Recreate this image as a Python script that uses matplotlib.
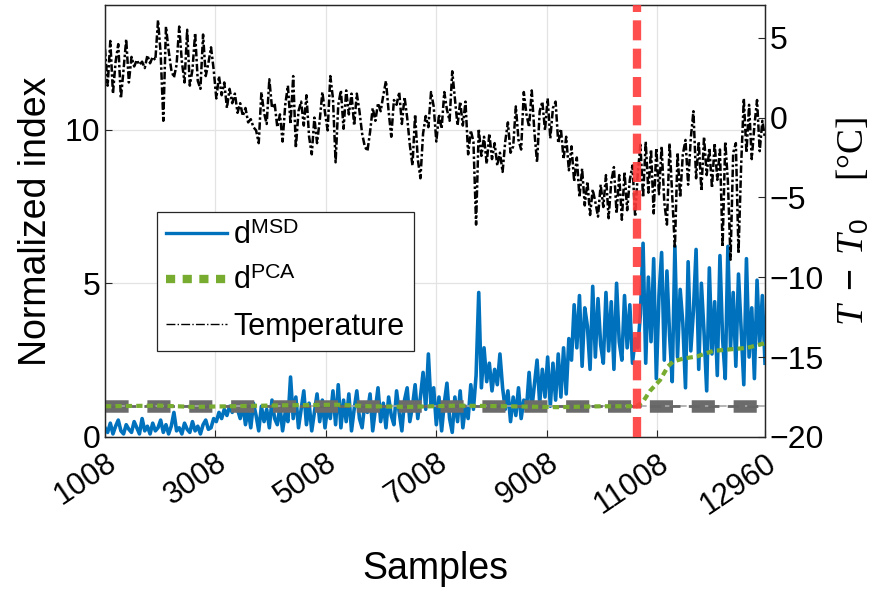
import numpy as np
import matplotlib.pyplot as plt
from matplotlib.lines import Line2D

plt.rcParams['font.family'] = ['Liberation Sans', 'DejaVu Sans']
plt.rcParams['mathtext.fontset'] = 'custom'
plt.rcParams['mathtext.rm'] = 'Liberation Sans'
plt.rcParams['mathtext.it'] = 'Liberation Serif:italic'
plt.rcParams['mathtext.bf'] = 'Liberation Sans:bold'

## data (one value every 48 samples)
samples = np.arange(1008, 12961, 48)

msd = [0.30, 0.15, 0.45, 0.10, 0.35, 0.55, 0.20, 0.10, 0.40, 0.25,
       0.15, 0.50, 0.30, 0.10, 0.60, 0.20, 0.35, 0.10, 0.45, 0.20,
       0.30, 0.55, 0.15, 0.40, 0.10, 0.35, 0.80, 0.20, 0.30, 0.10,
       0.45, 0.25, 0.15, 0.50, 0.20, 0.35, 0.10, 0.40, 0.55, 0.25,
       0.30, 0.60, 0.50, 0.80, 0.60, 0.90, 0.70, 1.00, 0.80, 1.10,
       0.90, 0.60, 1.05, 0.40, 0.90, 0.30, 1.10, 0.70, 0.20, 1.00,
       0.50, 0.90, 0.30, 1.20, 0.60, 0.40, 1.00, 0.20, 0.80, 0.50,
       1.95, 0.60, 1.30, 0.30, 0.90, 1.50, 0.40, 1.10, 0.20, 0.80,
       1.40, 0.50, 1.20, 0.30, 1.00, 0.60, 1.50, 0.40, 1.70, 0.30,
       1.20, 0.50, 1.40, 0.20, 0.90, 1.50, 0.60, 0.30, 1.10, 0.80,
       1.40, 0.20, 0.90, 1.60, 0.50, 1.10, 0.30, 1.30, 0.70, 0.40,
       1.50, 0.80, 0.20, 1.20, 1.60, 0.50, 1.00, 1.70, 0.60, 1.30,
       2.10, 0.90, 2.70, 1.00, 1.60, 0.40, 1.30, 0.20, 1.10, 1.75,
       0.60, 0.15, 1.30, 0.50, 1.50, 0.30, 1.00, 0.60, 1.70, 0.90,
       2.00, 4.70, 1.60, 2.90, 1.80, 2.40, 1.50, 2.20, 1.70, 2.70,
       1.60, 0.90, 1.50, 0.50, 1.30, 0.70, 1.60, 0.60, 1.20, 0.90,
       2.10, 0.90, 1.70, 2.50, 1.10, 2.20, 1.30, 2.60, 1.00, 2.40,
       1.20, 2.70, 1.30, 2.90, 1.40, 3.20, 2.50, 4.30, 2.90, 4.60,
       2.30, 4.20, 3.60, 2.20, 4.90, 2.60, 4.50, 3.00, 2.40, 4.70,
       2.80, 4.40, 2.20, 5.00, 3.10, 2.50, 4.60, 2.90, 4.30, 2.40,
       3.20, 2.90, 4.00, 6.30, 2.40, 5.20, 3.10, 5.80, 1.90, 4.60,
       6.00, 2.50, 5.40, 3.30, 1.80, 6.20, 2.60, 4.80, 3.70, 1.60,
       5.70, 2.80, 4.10, 6.10, 2.20, 5.00, 3.40, 1.50, 5.50, 2.70,
       4.40, 2.00, 5.90, 3.20, 1.90, 6.20, 2.90, 4.70, 2.30, 5.30,
       3.50, 1.70, 5.80, 2.60, 4.20, 1.90, 5.10, 3.00, 4.60, 2.40]

temp = [4.3, 2.0, 4.8, 1.5, 3.5, 4.6, 1.2, 3.0, 4.9, 2.2,
        3.8, 3.2, 3.6, 3.3, 3.5, 3.1, 3.9, 3.4, 3.8, 3.6,
        6.1, 4.0, -0.2, 5.7, 4.2, 3.0, 2.5, 3.3, 5.7, 3.5,
        2.2, 5.5, 2.0, 3.0, 5.3, 2.3, 1.8, 5.2, 2.6, 3.4,
        4.4, 3.0, 1.2, 2.6, 1.4, 2.2, 0.6, 1.8, 0.9, 1.5,
        0.3, 0.9, 0.1, 0.6, -0.3, -0.1, -0.6, -0.8, -1.6, 1.6,
        0.3, -0.4, 2.4, 0.6, 0.9, -0.6, 0.2, -1.5, 0.8, 2.0,
        -0.4, 2.6, -1.9, 0.4, 1.0, -0.5, 1.4, -1.2, -2.3, 0.0,
        -1.6, -0.2, 1.6, 0.3, -0.8, 2.6, 1.2, -2.8, 0.8, 1.7,
        -0.7, 1.7, 0.2, 1.5, -0.5, 1.5, 0.4, -1.0, -1.8, -2.1,
        -0.9, 0.6, -0.2, 0.9, 0.4, 1.4, 2.3, 0.4, -1.2, 1.1,
        0.8, 1.6, -0.4, 1.3, 0.0, -1.7, -3.0, 0.2, -2.6, -3.8,
        -1.0, 0.1, -0.6, 1.6, 0.7, -1.5, 0.2, -0.7, 1.6, 0.5,
        -0.2, 2.9, 1.2, -0.5, 1.0, -0.5, 1.0, -2.3, -0.8, -1.5,
        -6.7, -0.7, -2.4, -1.2, -2.9, -1.0, -2.6, -1.6, -3.0, -2.2,
        -3.4, -1.5, -0.3, -2.2, -1.8, 0.7, -1.4, -2.0, 1.6, 0.2,
        -0.6, 1.7, -0.9, -2.8, 0.4, 1.0, -0.8, 1.2, -1.3, 0.6,
        1.0, -1.6, -0.7, -2.6, -1.2, -3.3, -1.8, -4.0, -2.5, -5.0,
        -3.2, -5.5, -4.0, -6.1, -4.5, -5.3, -6.2, -4.2, -5.6, -3.6,
        -6.3, -4.0, -3.1, -6.0, -3.6, -6.4, -3.4, -5.8, -3.9, -3.0,
        -6.2, -3.5, -1.7, -5.0, -1.5, -4.7, -2.0, -6.0, -1.9, -4.8,
        -1.8, -5.3, -6.7, -1.6, -4.9, -8.2, -2.2, -5.0, -2.3, -1.4,
        -4.2, -1.3, 0.4, -3.8, -1.5, -4.6, -1.2, -3.6, -1.9, -4.4,
        -1.6, -3.9, -2.0, -8.1, -1.5, -4.0, -8.9, -2.2, -1.6, -8.5,
        -3.0, 1.2, -2.2, 0.8, -2.6, -0.5, 1.1, -2.1, -0.2, -1.3]

pca_samples = [1008, 2000, 2600, 3300, 4200, 5200, 5800, 6500, 7400, 8300,
               9200, 10000, 10642, 10751, 10878, 11059, 11204, 11294, 11475,
               11729, 12019, 12327, 12635, 12960]
pca = [1.0, 1.02, 0.98, 1.0, 1.03, 1.05, 1.0, 0.98, 1.02, 1.0,
       0.97, 1.0, 1.0, 1.15, 1.5, 1.85, 2.3, 2.45, 2.55,
       2.62, 2.8, 2.85, 2.9, 3.05]

threshold = 1.0
change_point = 10642
xticks = [1008, 3008, 5008, 7008, 9008, 11008, 12960]

blue = '#0072BD'
green = '#77AC30'

fig = plt.figure(figsize=(8.93, 5.90), dpi=100)
ax = fig.add_axes([105/893, 1-437/590, 660/893, 432/590])
ax2 = ax.twinx()

##left axis: indices
ax.plot(samples, msd, color=blue, lw=2.6, zorder=3)
x0, x1 = samples[0], samples[-1]
ax.plot([x0, x1], [threshold, threshold], color='#6b6b6b', lw=9,
        dashes=(1.85, 1.5), solid_capstyle='butt', dash_capstyle='butt', zorder=4)
ax.plot([x0, x1], [threshold, threshold], color='#a8a8a8', lw=1.2,
        dashes=(13, 11), dash_capstyle='butt', zorder=4)
ax.plot([x0, x1], [threshold, threshold], color='#666666', lw=2,
        dashes=(4, 3), zorder=4)
ax.plot(pca_samples, pca, color=green, lw=3, ls=(0, (1.5, 1)), zorder=5)

ax.set_xlim(1008, 12960)
ax.set_ylim(0, 14.05)
ax.set_xticks(xticks)
ax.set_xticklabels([str(t) for t in xticks], rotation=34, ha='right',
                   rotation_mode='anchor', fontsize=22)
ax.set_yticks([0, 5, 10])
ax.tick_params(axis='both', direction='in', length=5, labelsize=23,
               color='#262626', labelcolor='k')
ax.tick_params(axis='x', labelsize=22, pad=8)
ax.grid(True, color='#e3e3e3', lw=0.9)
ax.set_xlabel('Samples', fontsize=27, labelpad=22)
ax.set_ylabel('Normalized index', fontsize=27, labelpad=8)

##right axis: temperature
ax2.plot(samples, temp, color='k', lw=1.8, dashes=(3, 1, 1, 1), zorder=2)
ax2.axvline(change_point, color='#ff3b3b', lw=6, dashes=(2.4, 1.0), alpha=0.9, zorder=6)
ax2.set_ylim(-20, 7.05)
ax2.set_yticks([-20, -15, -10, -5, 0, 5])
ax2.set_yticklabels(['\u221220', '\u221215', '\u221210', '\u22125', '0', '5'])
ax2.tick_params(axis='y', direction='in', length=5, labelsize=23,
                color='#262626', labelcolor='k')
ax2.set_ylabel(r'$T\ -\ T_0$    [°C]', fontsize=27, family='Liberation Serif', labelpad=8)

for a in (ax, ax2):
    for s in a.spines.values():
        s.set_color('#262626')
        s.set_linewidth(0.9)

handles = [Line2D([], [], color=blue, lw=2.4),
           Line2D([], [], color=green, lw=6, ls=(0, (1.1, 0.9))),
           Line2D([], [], color='k', lw=1, ls='-.')]
labels = [r'd$^{\mathrm{MSD}}$', r'd$^{\mathrm{PCA}}$', 'Temperature']
leg = ax2.legend(handles, labels, loc='upper left', bbox_to_anchor=(0.0788, 0.5208),
                 borderaxespad=0, fontsize=22, fancybox=False, framealpha=1,
                 edgecolor='#262626', handlelength=2.0, handletextpad=0.2,
                 labelspacing=0.5, borderpad=0.3)
leg.get_frame().set_linewidth(0.9)
leg.set_zorder(10)

fig.savefig('out.png', dpi=100)
